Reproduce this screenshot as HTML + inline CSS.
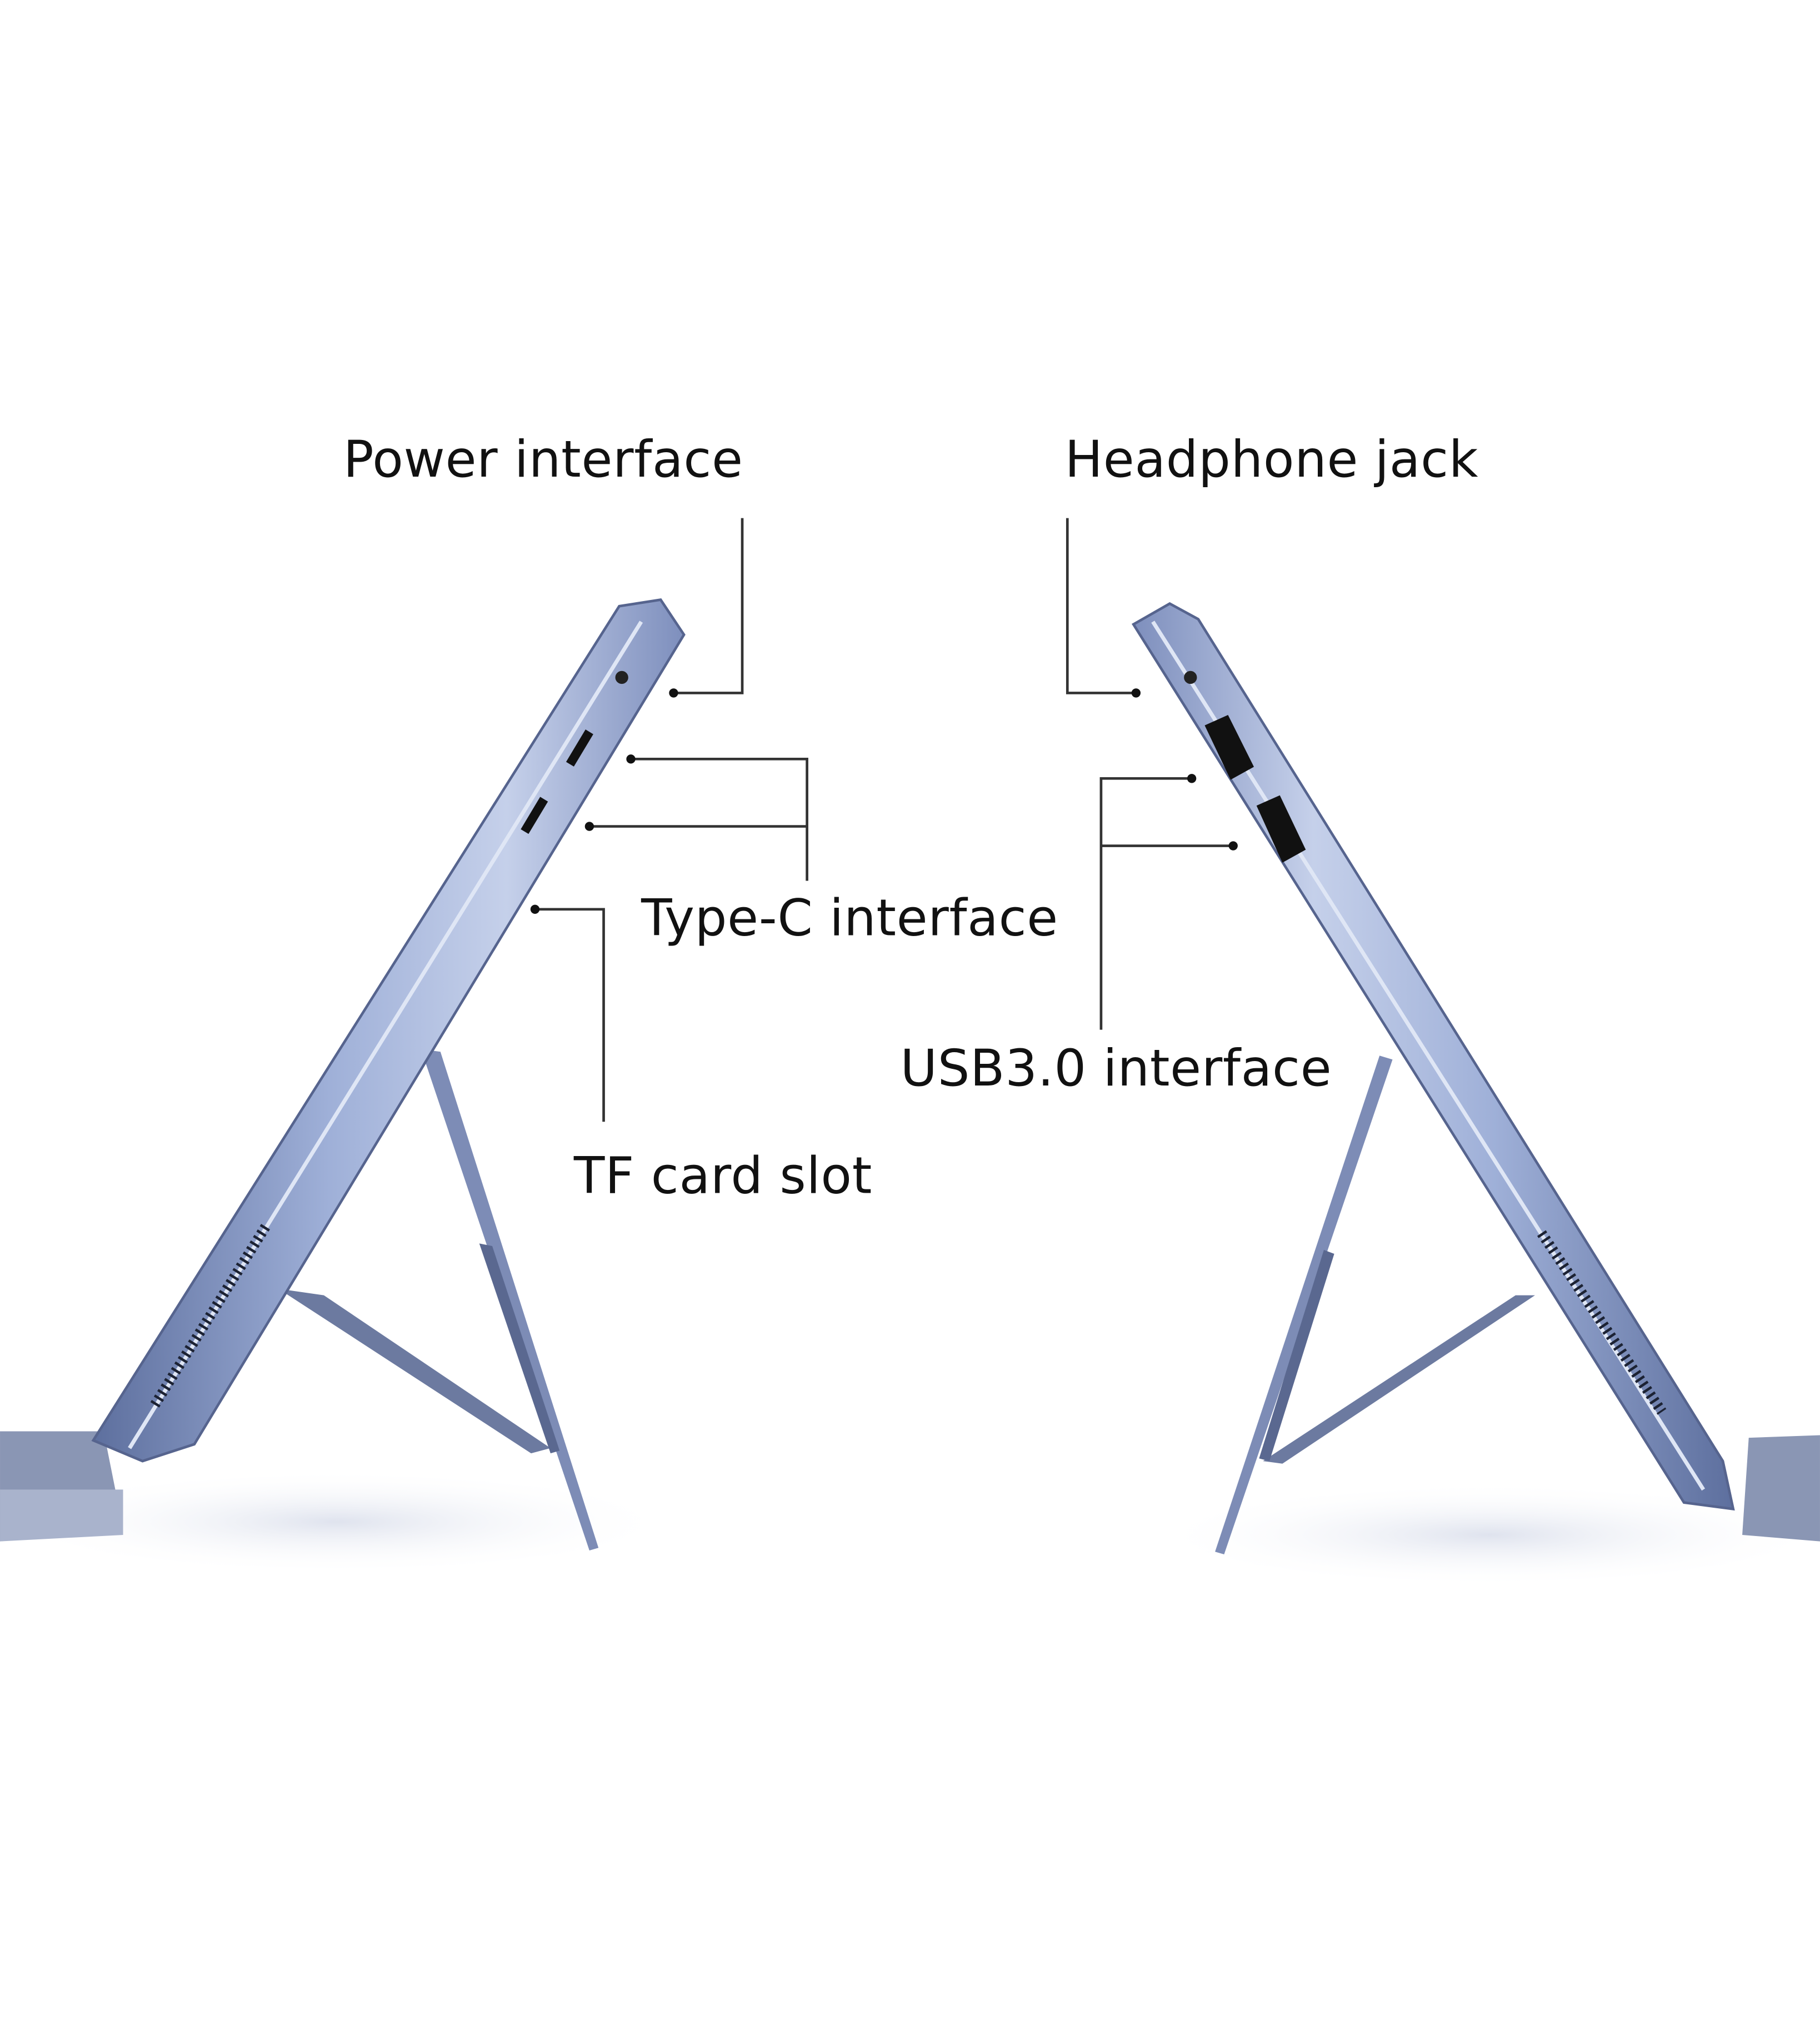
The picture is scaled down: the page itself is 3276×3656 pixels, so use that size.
<!DOCTYPE html>
<html><head><meta charset="utf-8"><style>
html,body{margin:0;padding:0;background:#fff;}
svg{display:block}
text{font-family:"DejaVu Sans","Liberation Sans",sans-serif;font-size:39px;letter-spacing:0.3px;fill:#111}
</style></head><body>
<svg width="3276" height="3656" viewBox="0 0 1405 1568" xmlns="http://www.w3.org/2000/svg">
<defs>
<linearGradient id="g1" x1="0" y1="0" x2="1" y2="0">
<stop offset="0" stop-color="#5d6f9e"/><stop offset="0.4" stop-color="#9fb0d8"/><stop offset="0.7" stop-color="#c5d0ea"/><stop offset="1" stop-color="#7e8fbd"/></linearGradient>
<linearGradient id="g2" x1="1" y1="0" x2="0" y2="0">
<stop offset="0" stop-color="#5d6f9e"/><stop offset="0.4" stop-color="#9fb0d8"/><stop offset="0.7" stop-color="#c5d0ea"/><stop offset="1" stop-color="#7e8fbd"/></linearGradient>
<radialGradient id="sh" cx="0.5" cy="0.5" r="0.5"><stop offset="0" stop-color="#dfe3ee"/><stop offset="1" stop-color="#fff" stop-opacity="0"/></radialGradient>
</defs>
<rect width="1405" height="1568" fill="#fff"/>
<ellipse cx="260" cy="1175" rx="260" ry="40" fill="url(#sh)"/>
<ellipse cx="1150" cy="1185" rx="260" ry="40" fill="url(#sh)"/>
<polygon points="0,1105 80,1105 95,1180 0,1190" fill="#8a96b4"/>
<polygon points="0,1150 95,1150 95,1185 0,1190" fill="#a9b3cc"/>
<polygon points="215,995 250,1000 425,1118 410,1122" fill="#6c7aa0"/>
<polygon points="325,810 340,812 462,1195 455,1197" fill="#7d8cb6"/>
<polygon points="370,960 380,962 432,1120 425,1122" fill="#5a6890"/>
<polygon points="478,468 510,463 528,490 150,1115 110,1128 72,1112" fill="url(#g1)" stroke="#56648e" stroke-width="2"/>
<polyline points="495,480 100,1118" stroke="#dfe6f5" stroke-width="3" fill="none"/>
<line x1="205" y1="947" x2="118" y2="1087" stroke="#1c2233" stroke-width="8" stroke-dasharray="2 3"/>
<circle cx="480" cy="523" r="5" fill="#222"/>
<line x1="455" y1="565" x2="440" y2="590" stroke="#111" stroke-width="7"/>
<line x1="420" y1="617" x2="405" y2="642" stroke="#111" stroke-width="7"/>
<polygon points="1350,1110 1405,1108 1405,1190 1345,1185" fill="#8a96b4"/>
<polygon points="975,1128 990,1130 1185,1000 1170,1000" fill="#6c7aa0"/>
<polygon points="1065,815 1075,818 945,1200 938,1198" fill="#7d8cb6"/>
<polygon points="1022,965 1030,968 980,1128 972,1126" fill="#5a6890"/>
<polygon points="875,482 903,466 925,478 1330,1128 1338,1165 1300,1160" fill="url(#g2)" stroke="#56648e" stroke-width="2"/>
<polyline points="890,480 1315,1150" stroke="#dfe6f5" stroke-width="3" fill="none"/>
<line x1="1190" y1="952" x2="1283" y2="1090" stroke="#1c2233" stroke-width="8" stroke-dasharray="2 3"/>
<circle cx="919" cy="523" r="5" fill="#222"/>
<polygon points="930,560 948,552 968,592 950,602" fill="#111"/>
<polygon points="970,622 988,614 1008,656 990,666" fill="#111"/>
<text x="265" y="368">Power interface</text>
<text x="822" y="368">Headphone jack</text>
<text x="495" y="722">Type-C interface</text>
<text x="695" y="838">USB3.0 interface</text>
<text x="443" y="921">TF card slot</text>
<g stroke="#333" stroke-width="2" fill="none">
<polyline points="573,400 573,535 520,535"/>
<polyline points="824,400 824,535 877,535"/>
<polyline points="487,586 623,586 623,680"/>
<polyline points="455,638 623,638"/>
<polyline points="413,702 466,702 466,866"/>
<polyline points="920,601 850,601 850,795"/>
<polyline points="952,653 850,653"/>
</g>
<g fill="#111">
<circle cx="520" cy="535" r="3.5"/><circle cx="877" cy="535" r="3.5"/>
<circle cx="487" cy="586" r="3.5"/><circle cx="455" cy="638" r="3.5"/>
<circle cx="413" cy="702" r="3.5"/><circle cx="920" cy="601" r="3.5"/>
<circle cx="952" cy="653" r="3.5"/>
</g>
</svg>
</body></html>
